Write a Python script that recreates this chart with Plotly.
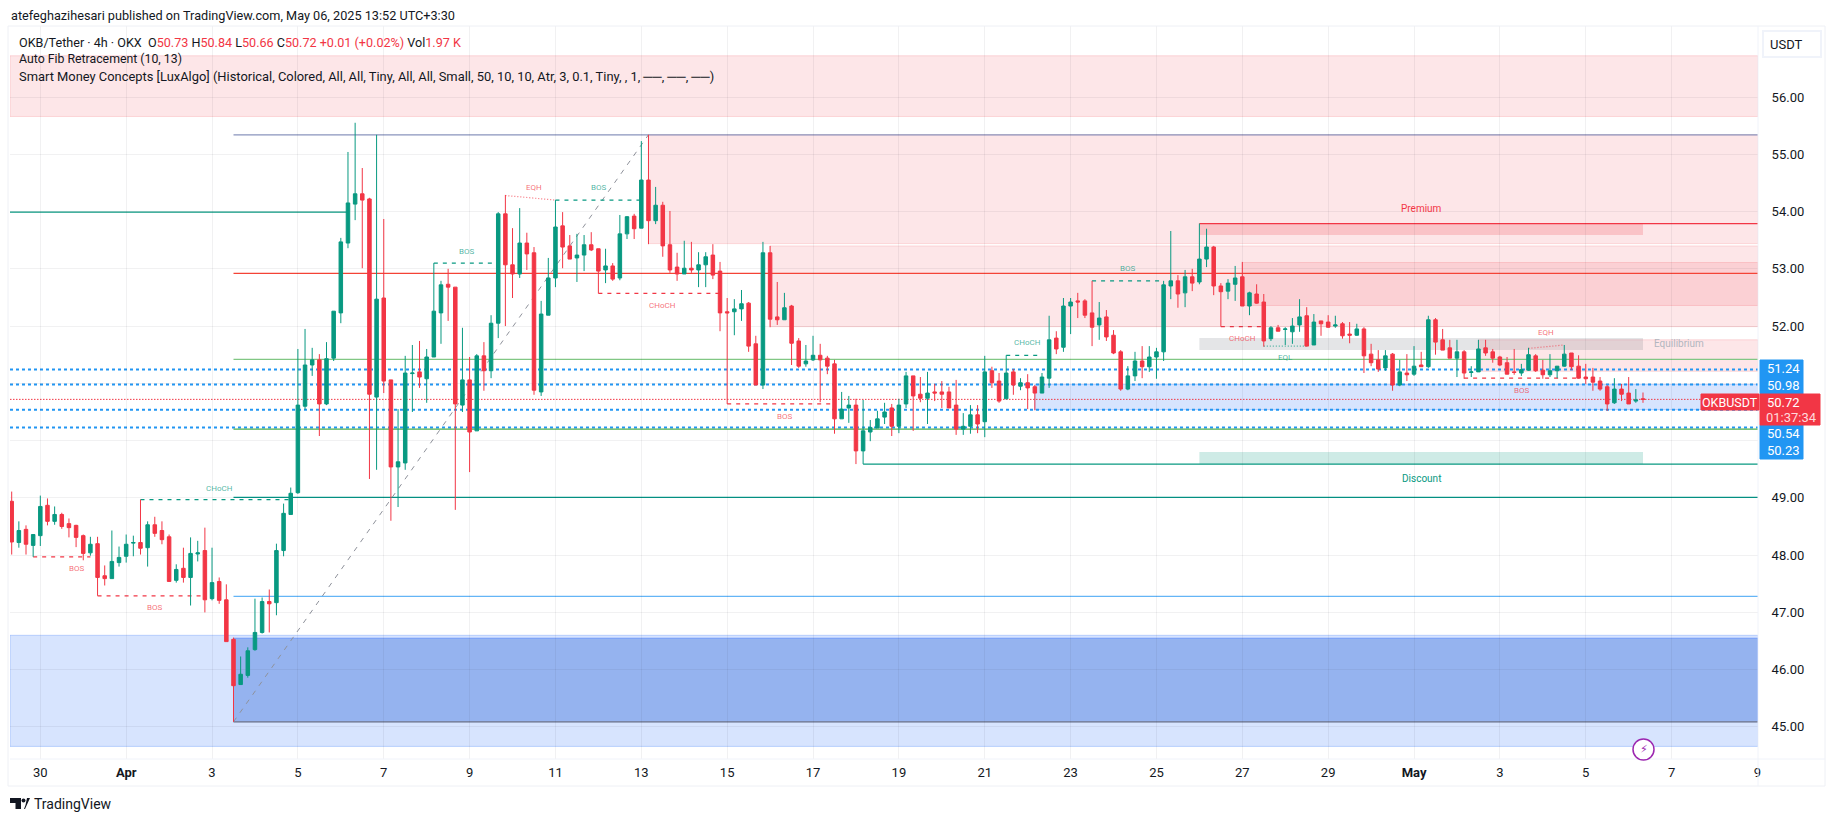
import pandas as pd
import plotly.graph_objects as go

opens = [48.94,48.22,48.45,48.17,48.34,48.87,48.59,48.71,48.55,48.52,
48.34,48.04,48.20,47.64,47.59,47.87,47.98,48.21,48.22,48.13,
48.53,48.43,48.32,47.56,47.77,47.61,48.02,48.08,47.24,47.54,
47.22,46.53,45.74,45.90,46.35,46.65,47.19,47.17,48.08,48.71,
49.09,50.60,51.32,51.41,50.64,51.44,52.23,53.45,54.13,54.31,
54.22,50.76,52.49,51.06,49.54,49.61,51.17,51.20,51.08,51.46,
52.23,52.73,52.68,50.62,51.06,50.17,51.48,51.22,52.05,53.96,
53.07,52.91,53.45,53.28,50.85,52.19,52.84,53.75,53.40,53.19,
53.24,53.42,53.35,52.98,53.05,52.84,53.61,53.92,53.71,54.55,
53.84,54.11,53.42,53.03,52.91,53.01,52.98,53.07,53.24,52.96,
52.25,52.25,52.30,52.40,51.69,50.97,53.28,52.16,52.11,52.35,
51.74,51.34,51.41,51.49,51.44,51.34,50.38,50.57,50.62,49.82,
50.15,50.22,50.41,50.57,50.25,50.64,51.13,50.81,50.74,50.85,
50.85,50.85,50.62,50.20,50.25,50.45,50.33,51.22,51.04,50.73,
51.20,50.95,51.01,50.94,50.83,51.09,51.79,51.63,52.35,52.44,
52.44,52.23,52.02,52.16,51.84,51.55,50.90,51.13,51.39,51.29,
51.46,51.55,52.70,52.79,52.58,52.86,52.77,53.17,53.38,52.70,
52.61,52.73,52.86,52.35,52.56,52.42,51.78,51.97,51.94,51.90,
52.02,52.18,51.67,52.09,52.07,52.00,52.04,51.86,51.84,51.95,
51.51,51.41,51.27,51.51,50.97,51.18,51.16,51.32,51.29,52.11,
51.76,51.62,51.44,51.55,51.19,51.20,51.62,51.55,51.46,51.36,
51.20,51.18,51.23,51.48,51.23,51.15,51.22,51.30,51.53,51.30,
51.11,51.11,51.04,50.94,50.66,50.90,50.83,50.69,50.73]

highs = [49.11,48.59,48.52,48.36,49.04,48.99,48.85,48.74,48.64,48.53,
48.36,48.32,48.32,47.82,48.43,48.15,48.36,48.34,48.97,48.59,
48.67,48.59,48.36,47.84,48.13,48.31,48.25,48.48,48.13,47.61,
47.49,46.56,46.23,46.39,47.24,47.26,47.40,48.20,48.90,49.18,
51.60,51.95,51.62,51.51,51.72,52.26,53.54,55.04,55.55,54.76,
54.24,55.34,53.87,51.06,50.55,51.48,51.67,51.74,51.60,53.10,
52.79,53.00,52.68,51.97,51.46,51.51,51.72,52.19,53.99,54.29,
53.71,54.06,53.63,53.38,52.44,53.19,54.20,53.99,53.59,53.61,
53.59,53.64,53.35,53.35,53.10,53.94,53.92,53.96,55.23,55.34,
54.43,54.17,54.01,53.28,53.49,53.47,53.29,53.29,53.43,53.12,
52.49,52.47,52.63,52.42,51.83,53.47,53.40,52.77,52.58,52.37,
51.79,51.67,51.83,51.69,51.48,51.41,50.85,50.78,50.73,50.71,
50.36,50.52,50.66,50.64,50.73,51.20,51.13,51.11,51.20,50.99,
51.04,50.94,51.06,50.48,50.62,50.62,51.48,51.29,51.18,51.49,
51.25,51.09,51.16,50.97,51.18,52.18,51.91,52.49,52.49,52.58,
52.47,52.79,52.42,52.28,51.93,51.58,51.30,51.55,51.65,51.65,
51.62,52.79,53.66,52.89,52.98,53.00,53.79,53.70,53.40,52.75,
52.82,53.05,53.12,52.60,52.73,52.56,52.00,52.02,51.98,52.14,
52.47,52.33,52.21,52.09,52.19,52.18,52.07,52.07,52.04,51.98,
51.69,51.58,51.58,51.53,51.41,51.51,51.65,51.55,52.18,52.14,
51.95,51.76,51.76,51.58,51.30,51.76,51.76,51.60,51.48,51.46,
51.60,51.34,51.62,51.51,51.41,51.51,51.30,51.67,51.53,51.49,
51.34,51.27,51.11,50.97,51.09,50.99,51.11,50.90,50.84]

lows = [48.01,48.13,48.01,47.97,48.16,48.52,48.53,48.46,48.31,48.14,
47.91,47.99,47.29,47.47,47.59,47.80,47.87,47.98,48.01,47.80,
48.32,48.19,47.54,47.52,47.52,47.12,47.89,47.00,47.21,47.15,
46.49,45.09,45.74,45.86,46.33,46.63,46.65,46.95,47.98,48.71,
49.07,50.54,51.13,50.08,50.62,51.39,52.05,53.36,53.85,53.01,
49.33,49.49,50.83,48.60,48.84,49.49,50.50,50.92,50.66,51.46,
51.69,52.09,48.79,50.50,49.45,50.17,50.87,51.09,51.79,52.00,
52.49,52.84,52.98,50.80,50.78,52.19,52.68,53.01,53.17,52.77,
52.96,53.31,52.57,52.75,52.79,52.80,53.52,53.52,53.71,53.43,
53.78,53.21,52.93,52.79,52.91,52.93,52.68,52.68,52.82,51.91,
50.64,51.84,52.09,51.55,50.97,50.90,51.98,52.02,52.11,51.32,
51.27,51.29,51.39,50.67,51.16,50.12,50.38,50.31,49.59,49.59,
49.99,50.22,50.29,50.08,50.13,50.57,50.17,50.67,50.29,50.69,
50.57,50.57,50.10,50.10,50.12,50.13,50.06,50.92,50.66,50.73,
50.80,50.88,50.55,50.53,50.83,50.92,51.51,51.55,51.86,52.14,
52.14,51.65,51.76,51.74,51.51,50.87,50.88,51.04,51.09,51.20,
51.08,51.39,52.47,52.32,52.33,52.61,52.73,53.03,52.54,51.99,
52.47,52.44,52.35,52.19,52.39,51.64,51.74,51.91,51.67,51.69,
51.90,51.65,51.67,51.83,51.97,51.97,51.78,51.70,51.83,51.18,
51.30,51.20,51.22,50.87,50.95,51.04,51.13,51.29,51.27,51.50,
51.58,51.44,51.11,51.08,51.11,51.20,51.48,51.36,51.30,51.16,
51.15,51.13,51.22,51.20,51.08,51.11,51.09,51.29,51.23,51.08,
50.99,50.87,50.87,50.52,50.64,50.69,50.64,50.66,50.66]

closes = [48.23,48.43,48.19,48.36,48.85,48.59,48.71,48.50,48.48,48.31,
48.03,48.19,47.61,47.59,47.89,47.96,48.19,48.22,48.12,48.53,
48.38,48.27,47.54,47.75,47.61,48.03,48.04,47.22,47.52,47.21,
46.49,45.72,45.92,46.33,46.65,47.19,47.15,48.08,48.73,49.08,
50.62,51.32,51.41,50.64,51.43,52.26,53.47,54.15,54.31,54.20,
50.81,52.47,51.04,49.54,49.63,51.18,51.18,51.11,51.46,52.26,
52.72,52.68,50.64,51.06,50.15,51.48,51.22,52.05,53.96,53.07,
52.91,53.45,53.26,50.88,52.21,52.84,53.73,53.38,53.17,53.24,
53.42,53.33,52.96,53.05,52.82,53.61,53.91,53.70,54.55,53.84,
54.11,53.40,52.98,52.91,53.01,52.98,53.07,53.21,52.89,52.23,
52.23,52.30,52.39,51.65,50.97,53.28,52.12,52.11,52.32,51.70,
51.30,51.39,51.49,51.41,51.30,50.38,50.55,50.62,49.82,50.17,
50.23,50.38,50.50,50.25,50.62,51.13,50.78,50.74,50.83,50.83,
50.81,50.57,50.20,50.25,50.45,50.29,51.20,51.01,50.69,51.18,
50.97,51.01,50.92,50.83,51.11,51.76,51.60,52.35,52.42,52.42,
52.19,51.98,52.14,51.81,51.53,50.90,51.13,51.39,51.29,51.46,
51.55,52.72,52.79,52.56,52.86,52.75,53.17,53.38,52.70,52.60,
52.75,52.84,52.35,52.58,52.40,51.74,51.97,51.91,51.95,52.00,
52.16,51.65,52.07,52.04,51.98,52.02,51.83,51.84,51.95,51.48,
51.36,51.25,51.48,50.97,51.20,51.15,51.30,51.29,52.11,51.72,
51.58,51.44,51.55,51.18,51.20,51.60,51.53,51.44,51.32,51.16,
51.19,51.24,51.50,51.22,51.15,51.22,51.30,51.51,51.29,51.09,
51.08,51.02,50.90,50.64,50.90,50.81,50.64,50.71,50.72]

tick_dates = ["2025-03-30","2025-04-01","2025-04-03","2025-04-05","2025-04-07","2025-04-09","2025-04-11",
              "2025-04-13","2025-04-15","2025-04-17","2025-04-19","2025-04-21","2025-04-23","2025-04-25",
              "2025-04-27","2025-04-29","2025-05-01","2025-05-03","2025-05-05","2025-05-07","2025-05-09"]
tick_text = ["30","<b>Apr</b>","3","5","7","9","11","13","15","17","19","21","23","25","27","29","<b>May</b>","3","5","7","9"]
price_ticks = [45,46,47,48,49,50,51,52,53,54,55,56]
price_tick_text = ["45.00","46.00","47.00","48.00","49.00","","","52.00","53.00","54.00","55.00","56.00"]

# zones: first candle number (None = left edge), last candle number (None = right edge), top, bottom
red_zones = [(None,None,56.72,55.66),(90,None,55.34,53.44),(107,None,53.40,51.99),(173,None,53.11,52.36),(206,None,51.76,51.21)]
blue_zones = [(144,None,50.98,50.54),(None,None,46.60,44.66)]
deep_blue_zone = (32,None,46.55,45.09)
premium_band = (167,229,53.79,53.59)
equilibrium_band = (167,229,51.79,51.58)
discount_band = (167,229,49.80,49.59)

# fib levels from the swing low candle to the right edge
fib_levels = [(55.34,"#8a94bd"),(52.92,"#f44336"),(51.42,"#81c784"),(50.20,"#4caf50"),(49.01,"#009688"),(47.28,"#64b5f6"),(45.09,"#787b86")]
# lines: start candle, end candle (None = right edge), price, colour
solid_levels = [(None,48,53.99,"#089981"),(167,None,53.79,"#f23645"),(120,None,49.59,"#089981")]
blue_dotted = [51.24,50.98,50.54,50.23]
last_price = 50.72

RED, GREEN = "#f23645", "#089981"
# structure: start candle, end candle, price, label, label candle, label price, colour
structure = [
    (4,12,47.97,"BOS",10,47.76,RED),(13,28,47.29,"BOS",21,47.08,RED),
    (19,40,48.97,"CHoCH",30,49.17,GREEN),(60,69,53.10,"BOS",64.5,53.30,GREEN),
    (77,89,54.20,"BOS",83,54.42,GREEN),(83,100,52.57,"CHoCH",92,52.36,RED),
    (101,116,50.64,"BOS",109,50.42,RED),(140,145,51.49,"CHoCH",143,51.71,GREEN),
    (152,162,52.79,"BOS",157,53.01,GREEN),(170,176,51.99,"CHoCH",173,51.79,RED),
    (204,220,51.09,"BOS",212,50.87,RED),
]
# equal highs / lows: start candle, start price, end candle, end price, label, label candle, label price, colour
equals = [(70,54.28,77,54.20,"EQH",74,54.42,RED),(176,51.65,182,51.65,"EQL",179,51.45,GREEN),(213,51.61,218,51.67,"EQH",215.5,51.89,RED)]
zone_labels = [("Premium",198,54.05,RED),("Equilibrium",234,51.69,"#b2b5be"),("Discount",198,49.33,GREEN)]

dates = pd.date_range("2025-03-29 08:00", periods=len(opens), freq="4h")
xstart, xend = pd.Timestamp("2025-03-29 07:03"), pd.Timestamp("2025-05-09 00:18")
ymin, ymax = 44.44, 57.24
L, R, T, B = 10, 1758, 26, 759

def cd(n):
    return dates[0] + pd.Timedelta(hours=4*(n-1))
def xa(n, default):
    return default if n is None else cd(n)
def px(x): return (x-L)/(R-L)
def py(y): return 1-(y-T)/(B-T)

fig = go.Figure(go.Candlestick(
    x=dates, open=opens, high=highs, low=lows, close=closes, hoverinfo="skip",
    whiskerwidth=0,
    increasing=dict(line=dict(color=GREEN, width=1), fillcolor=GREEN),
    decreasing=dict(line=dict(color=RED, width=1), fillcolor=RED)))

shapes, ann = [], []
def zone(a, b, top, bot, fill, edge):
    shapes.append(dict(type="rect", xref="x", yref="y", x0=xa(a,xstart), x1=xa(b,xend), y0=bot, y1=top,
                       fillcolor=fill, line=dict(color=edge, width=1), layer="below"))
def hline(a, b, p, color, width=1, dash="solid", layer="below"):
    shapes.append(dict(type="line", xref="x", yref="y", x0=xa(a,xstart), x1=xa(b,xend), y0=p, y1=p,
                       line=dict(color=color, width=width, dash=dash), layer=layer))
def soft(c):
    return "rgba(242,54,69,0.72)" if c == RED else "rgba(8,153,129,0.72)"
def label(n, p, text, color, size=8):
    ann.append(dict(xref="x", yref="y", x=cd(n), y=p, text=text, showarrow=False,
                    font=dict(size=size, color=color, family="Roboto")))
def ptext(x, y, text, color="#131722", size=13, anchor="left", bg=None, family="Roboto"):
    ann.append(dict(xref="paper", yref="paper", x=px(x), y=py(y), text=text, showarrow=False, xanchor=anchor,
                    yanchor="middle", font=dict(size=size, color=color, family=family), bgcolor=bg, borderpad=0))
def prect(x0, x1, y0, y1, fill, edge=None):
    shapes.append(dict(type="rect", xref="paper", yref="paper", x0=px(x0), x1=px(x1), y0=py(y1), y1=py(y0),
                       fillcolor=fill, line=dict(color=edge or fill, width=1), layer="above"))

for a,b,t,bt in red_zones:
    zone(a,b,t,bt,"rgba(242,54,69,0.125)","rgba(242,54,69,0.16)")
for a,b,t,bt in blue_zones:
    zone(a,b,t,bt,"rgba(41,110,250,0.19)","rgba(41,110,250,0.25)")
a,b,t,bt = deep_blue_zone
zone(a,b,t,bt,"rgba(35,95,215,0.37)","rgba(41,98,255,0.45)")
a,b,t,bt = premium_band
zone(a,b,t,bt,"rgba(242,54,69,0.2)","rgba(0,0,0,0)")
a,b,t,bt = equilibrium_band
zone(a,b,t,bt,"rgba(120,123,134,0.2)","rgba(0,0,0,0)")
a,b,t,bt = discount_band
zone(a,b,t,bt,"rgba(8,153,129,0.2)","rgba(0,0,0,0)")

for p in blue_dotted:
    hline(None,None,p,"#2196f3",2,"3px,3px")
hline(None,None,last_price,RED,1,"1.5px,1.5px")
for p,c in fib_levels:
    hline(32,None,p,c,1.3)
for a,b,p,c in solid_levels:
    hline(a,b,p,c,1.3)

shapes.append(dict(type="line", xref="x", yref="y", x0=cd(32), y0=45.09, x1=cd(90), y1=55.34,
                   line=dict(color="#8f929b", width=1, dash="5px,6px"), layer="below"))

for a,b,p,txt,ln,lp,c in structure:
    hline(a,b,p,c,1.2,"4px,5px")
    label(ln,lp,txt,soft(c))
for a,pa,b,pb,txt,ln,lp,c in equals:
    shapes.append(dict(type="line", xref="x", yref="y", x0=cd(a), y0=pa, x1=cd(b), y1=pb,
                       line=dict(color=soft(c), width=1.2, dash="1px,2px"), layer="below"))
    label(ln,lp,txt,soft(c))
for txt,n,p,c in zone_labels:
    label(n,p,txt,c,size=10)

# frame
prect(8,1825,26,786,"rgba(0,0,0,0)","#eef0f5")
shapes.append(dict(type="line", xref="paper", yref="paper", x0=px(10), x1=px(1825), y0=0, y1=0, line=dict(color="#f0f3fa", width=1)))
shapes.append(dict(type="line", xref="paper", yref="paper", x0=1, x1=1, y0=py(786), y1=1, line=dict(color="#f0f3fa", width=1)))

# header and legend
ptext(10,15,"atefeghazihesari published on TradingView.com, May 06, 2025 13:52 UTC+3:30",size=12.7)
r = lambda s: f'<span style="color:{RED}">{s}</span>'
ptext(18,42,"OKB/Tether · 4h · OKX  O"+r("50.73")+" H"+r("50.84")+" L"+r("50.66")+" C"+r("50.72")+" "+r("+0.01 (+0.02%)")+" Vol"+r("1.97 K"),size=12.6)
ptext(18,59,"Auto Fib Retracement (10, 13)",size=12.3)
ptext(18,76,"Smart Money Concepts [LuxAlgo] (Historical, Colored, All, All, Tiny, All, All, Small, 50, 10, 10, Atr, 3, 0.1, Tiny, , 1, ──, ──, ──)",size=12.9)

# price scale labels
BLUE = "#2196f3"
prect(1760,1803,360,394,BLUE)
prect(1760,1803,425,459,BLUE)
prect(1760,1820,394,425,RED)
prect(1701,1759,394,410,RED)
for txt,y in [("51.24",368.5),("50.98",385),("50.54",433.5),("50.23",450.5)]:
    ptext(1783,y,txt,"#ffffff",13,"center")
ptext(1783,402,"50.72","#ffffff",13,"center")
ptext(1791,417,"01:37:34","#ffd9dc",13,"center")
ptext(1730,402,"OKBUSDT","#ffffff",12.5,"center")

# currency button
shapes.append(dict(type="rect", xref="paper", yref="paper", x0=px(1763), x1=px(1821), y0=py(57), y1=py(31),
                   fillcolor="#ffffff", line=dict(color="#f0f3fa", width=2), layer="above"))
ptext(1786,44.5,"USDT","#131722",13,"center")

# lightning badge
shapes.append(dict(type="circle", xref="paper", yref="paper", x0=px(1633), x1=px(1654), y0=py(760), y1=py(739),
                   fillcolor="#ffffff", line=dict(color="#9c27b0", width=1.5), layer="above"))
ptext(1643.5,749.5,"⚡","#9c27b0",11,"center",family="DejaVu Sans")

# TradingView mark
shapes.append(dict(type="path", xref="paper", yref="paper", fillcolor="#131722", line=dict(width=0), layer="above",
    path=f"M {px(10)} {py(798)} L {px(21)} {py(798)} L {px(21)} {py(809)} L {px(15.5)} {py(809)} L {px(15.5)} {py(803)} L {px(10)} {py(803)} Z"))
shapes.append(dict(type="circle", xref="paper", yref="paper", fillcolor="#131722", line=dict(width=0), layer="above",
    x0=px(21.5), x1=px(25.5), y0=py(802.5), y1=py(798.5)))
shapes.append(dict(type="path", xref="paper", yref="paper", fillcolor="#131722", line=dict(width=0), layer="above",
    path=f"M {px(25)} {py(809)} L {px(24)} {py(809)} L {px(25.5)} {py(805)} L {px(27)} {py(798)} L {px(30)} {py(798)} Z"))
ptext(33,803.5,"TradingView","#131722",14)

GRID = "rgba(42,46,57,0.065)"
fig.update_layout(
    width=1835, height=821, paper_bgcolor="#ffffff", plot_bgcolor="#ffffff", showlegend=False,
    margin=dict(l=L, r=1835-R, t=T, b=821-B, autoexpand=False), boxgap=0.3,
    font=dict(family="Roboto", size=13, color="#131722"),
    shapes=shapes, annotations=ann,
    xaxis=dict(type="date", range=[xstart, xend], rangeslider=dict(visible=False), tickmode="array",
               tickvals=tick_dates, ticktext=tick_text, gridcolor=GRID, gridwidth=1, showline=False,
               ticks="outside", ticklen=1, tickcolor="rgba(0,0,0,0)", tickfont=dict(size=13, color="#131722"), zeroline=False),
    yaxis=dict(side="right", range=[ymin, ymax], tickmode="array", tickvals=price_ticks,
               ticktext=price_tick_text, gridcolor=GRID, gridwidth=1, showline=False,
               ticks="outside", ticklen=10, tickcolor="rgba(0,0,0,0)", tickfont=dict(size=13, color="#131722"), zeroline=False),
)
fig.write_html("out.html", config=dict(displayModeBar=False), post_script="document.body.style.margin='0';document.body.style.overflow='hidden';")
